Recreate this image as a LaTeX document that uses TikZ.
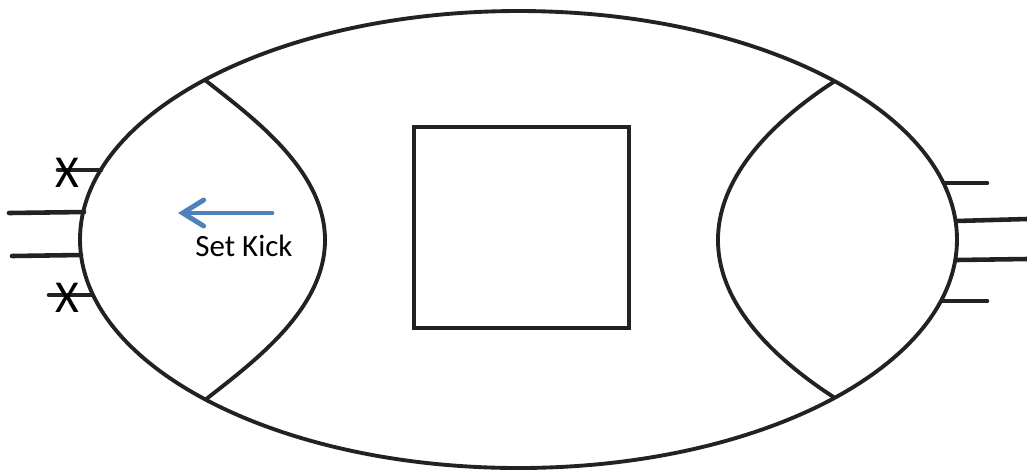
\documentclass[tikz,border=0pt]{standalone}
\usepackage{fontspec}
\setmainfont{Carlito}
\usetikzlibrary{arrows.meta}

\begin{document}
\begin{tikzpicture}[
  font=\fontsize{8.8}{10}\selectfont,
  outline/.style={draw=Ink, line width=1.1pt},
  lead/.style={draw=Ink, line width=1.3pt, line cap=round},
  xmark/.style={font=\fontsize{13}{15}\selectfont, anchor=base, inner sep=0pt},
]
\definecolor{Ink}{HTML}{222222}
\definecolor{Kick}{HTML}{4F81BD}

\useasboundingbox (0,0) rectangle (10.27,4.72);

% ---- body: ellipse, end caps, core ----
\draw[outline] (5.185,2.325) ellipse [x radius=4.385, y radius=2.285];
\draw[outline] (2.05,3.92) .. controls (2.52,3.55) and (3.25,3.02) .. (3.25,2.32)
  .. controls (3.25,1.62) and (2.52,1.09) .. (2.05,0.72);
\draw[outline] (8.35,3.91) .. controls (7.84,3.58) and (7.18,3.02) .. (7.18,2.32)
  .. controls (7.18,1.62) and (7.84,1.07) .. (8.35,0.74);
\draw[outline] (4.14,3.45) rectangle (6.29,1.44);

% ---- left leads ----
\draw[lead] (0.58,3.02) -- (1.01,3.02);
\draw[lead] (0.09,2.59) -- (0.84,2.60);
\draw[lead] (0.12,2.16) -- (0.81,2.17);
\draw[lead] (0.49,1.77) -- (0.92,1.77);
\node[xmark] (xtop) at (0.67,2.85) {X};
\node[xmark] (xbot) at (0.67,1.60) {X};

% ---- right leads ----
\draw[lead] (9.44,2.89) -- (9.87,2.89);
\draw[lead] (9.56,2.51) -- (10.27,2.53);
\draw[lead] (9.56,2.12) -- (10.27,2.13);
\draw[lead] (9.42,1.71) -- (9.87,1.71);

% ---- kick arrow ----
\coordinate (kickA) at (2.72,2.59);
\coordinate (kickB) at (1.78,2.59);
\draw[Kick, line width=1.4pt, line cap=round,
  -{Straight Barb[length=2.1mm, width=2.6mm, line cap=round]}] (kickA) -- (kickB);
\node[anchor=base, inner sep=0pt] (kick) at (2.44,2.16) {Set Kick};
\end{tikzpicture}
\end{document}
